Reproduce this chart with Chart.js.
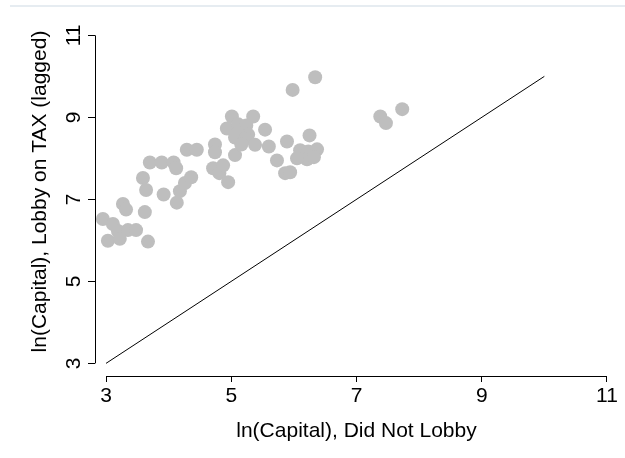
<!DOCTYPE html>
<html>
<head>
<meta charset="utf-8">
<script src="https://cdn.jsdelivr.net/npm/chart.js@4/dist/chart.umd.min.js"></script>
<style>
  html, body { margin: 0; padding: 0; background: #fff; }
  #wrap { width: 625px; height: 458px; }
</style>
</head>
<body>
<div id="wrap"><canvas id="c" width="625" height="458"></canvas></div>
<script>
// ln(Capital) of firms that did not lobby vs. firms that lobbied on TAX (lagged)
const capitalNoLobby = [
  2.95, 3.11, 3.19, 3.35, 3.48, 3.03, 3.22, 3.67, 3.27, 3.32,
  3.62, 3.59, 3.64, 3.70, 3.89, 4.08, 4.12, 4.29, 4.45, 3.92,
  4.13, 4.18, 4.26, 4.36, 4.74, 4.74, 4.71, 4.81, 4.87, 4.95,
  5.06, 5.01, 5.35, 4.93, 5.11, 5.24, 5.11, 5.27, 5.06, 5.22,
  5.38, 5.54, 5.60, 5.16, 5.89, 5.73, 5.86, 5.94, 5.98, 6.34,
  6.25, 6.10, 6.23, 6.37, 6.21, 6.05, 6.32, 7.38, 7.47, 7.73
];
const capitalLobbyTax = [
  6.52, 6.40, 6.23, 6.25, 6.25, 5.99, 6.04, 5.97, 6.89, 6.75,
  6.69, 7.52, 7.23, 7.90, 7.90, 7.90, 7.76, 8.21, 8.21, 7.12,
  6.92, 7.20, 7.40, 7.54, 8.34, 8.15, 7.76, 7.64, 7.83, 7.42,
  8.08, 9.02, 9.02, 8.73, 8.83, 8.80, 8.63, 8.58, 8.51, 8.48,
  8.33, 8.70, 8.29, 8.34, 8.41, 7.95, 7.64, 7.66, 9.67, 9.98,
  8.56, 8.20, 8.17, 8.22, 7.98, 8.00, 8.03, 9.02, 8.86, 9.20
];

// 45-degree reference line
const equalityX = [3, 10];
const equalityY = [3, 10];

// axis tick labels
const xTicks = [3, 5, 7, 9, 11];
const yTicks = [3, 5, 7, 9, 11];

const FONT = '"Liberation Sans", Arial, sans-serif';

const points = capitalNoLobby.map((x, i) => ({ x, y: capitalLobbyTax[i] }));
const refLine = equalityX.map((x, i) => ({ x, y: equalityY[i] }));

// base-graphics style axes: the axis line runs from first to last tick only
const axisLines = {
  id: 'axisLines',
  beforeDraw(chart) {
    const ctx = chart.ctx;
    ctx.save();
    ctx.strokeStyle = '#e6ecf1';
    ctx.lineWidth = 2;
    ctx.beginPath();
    ctx.moveTo(10, 6);
    ctx.lineTo(625, 6);
    ctx.stroke();
    ctx.restore();
  },
  afterDraw(chart) {
    const { ctx, chartArea, scales } = chart;
    const x = scales.x, y = scales.y;
    ctx.save();
    ctx.strokeStyle = '#000';
    ctx.lineWidth = 1;
    ctx.beginPath();
    const yb = Math.round(chartArea.bottom) + 0.5;
    ctx.moveTo(x.getPixelForValue(xTicks[0]), yb);
    ctx.lineTo(x.getPixelForValue(xTicks[xTicks.length - 1]), yb);
    const xl = Math.round(chartArea.left) + 0.5;
    ctx.moveTo(xl, y.getPixelForValue(yTicks[0]));
    ctx.lineTo(xl, y.getPixelForValue(yTicks[yTicks.length - 1]));
    ctx.stroke();
    ctx.restore();
  }
};

new Chart(document.getElementById('c'), {
  type: 'scatter',
  data: {
    datasets: [
      {
        data: points,
        pointRadius: 7,
        pointHoverRadius: 7,
        pointBackgroundColor: '#bebebe',
        pointBorderWidth: 0,
        pointBorderColor: '#bebebe'
      },
      {
        data: refLine,
        showLine: true,
        borderColor: '#000',
        borderWidth: 1,
        pointRadius: 0,
        fill: false
      }
    ]
  },
  options: {
    responsive: false,
    animation: false,
    layout: { padding: { left: 0, right: 7, top: 2, bottom: 0 } },
    plugins: { legend: { display: false }, tooltip: { enabled: false } },
    scales: {
      x: {
        type: 'linear',
        min: 2.824,
        max: 11.176,
        afterBuildTicks: s => { s.ticks = xTicks.map(v => ({ value: v })); },
        afterFit: s => { s.height = 82; s.paddingLeft = 0; s.paddingRight = 0; },
        border: { display: false },
        grid: { drawOnChartArea: false, drawTicks: true, tickLength: 6, color: '#000', lineWidth: 1 },
        ticks: { color: '#000', font: { family: FONT, size: 21 }, padding: 2 },
        title: {
          display: true,
          text: 'ln(Capital), Did Not Lobby',
          color: '#000',
          font: { family: FONT, size: 21 },
          padding: { top: 0, bottom: 14 }
        }
      },
      y: {
        type: 'linear',
        min: 2.692,
        max: 11.692,
        afterBuildTicks: s => { s.ticks = yTicks.map(v => ({ value: v })); },
        afterFit: s => { s.width = 95; s.paddingTop = 0; s.paddingBottom = 0; },
        border: { display: false },
        grid: { drawOnChartArea: false, drawTicks: true, tickLength: 7, color: '#000', lineWidth: 1 },
        ticks: {
          color: '#000',
          font: { family: FONT, size: 21 },
          padding: 3,
          minRotation: 90,
          maxRotation: 90,
          crossAlign: 'center'
        },
        title: {
          display: true,
          text: 'ln(Capital), Lobby on TAX (lagged)',
          color: '#000',
          font: { family: FONT, size: 21 },
          padding: { top: 28, bottom: 0 }
        }
      }
    }
  },
  plugins: [axisLines]
});
</script>
</body>
</html>
